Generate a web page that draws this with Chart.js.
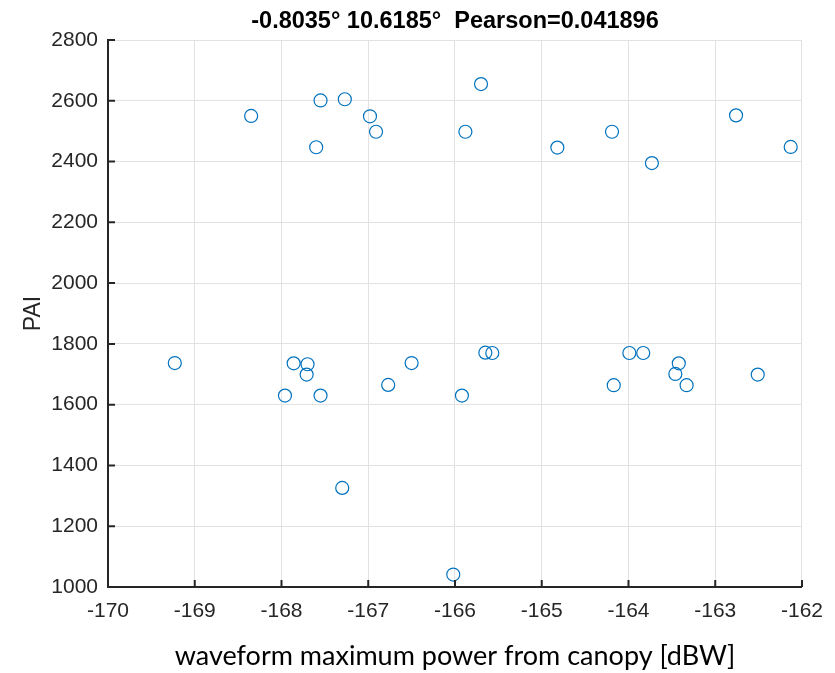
<!DOCTYPE html>
<html>
<head>
<meta charset="utf-8">
<script src="https://cdn.jsdelivr.net/npm/chart.js@4.4.0/dist/chart.umd.min.js"></script>
<style>
  body { margin: 0; background: #fff; }
  #wrap { width: 835px; height: 673px; }
</style>
</head>
<body>
<div id="wrap"><canvas id="scatter"></canvas></div>
<script>
// values
const powerValues = [
    -168.35, -167.55, -167.27, -166.98, -166.91, -167.60, -165.88, -165.70,
    -164.82, -164.19, -163.73, -162.76, -162.13,
    -169.23, -167.86, -167.70, -167.71, -167.96, -167.55, -166.77, -166.50,
    -167.30, -166.02, -165.92, -165.65, -165.57, -164.17, -163.99, -163.83,
    -163.42, -163.46, -163.33, -162.51
];
const paiValues = [
    2550, 2601, 2605, 2549, 2498, 2447, 2498, 2655,
    2446, 2498, 2395, 2552, 2448,
    1737, 1736, 1733, 1699, 1630, 1630, 1665, 1737,
    1326, 1041, 1630, 1771, 1770, 1664, 1770, 1770,
    1736, 1701, 1664, 1699
];
const xTicks = [-170, -169, -168, -167, -166, -165, -164, -163, -162];
const yTicks = [1000, 1200, 1400, 1600, 1800, 2000, 2200, 2400, 2600, 2800];

const titleText = '-0.8035\u00B0 10.6185\u00B0  Pearson=0.041896';
const xTitle = 'waveform maximum power from canopy [dBW]';
const yTitle = 'PAI';

const axisColor = '#262626';
const gridColor = '#e2e2e2';

const points = powerValues.map((x, i) => ({ x: x, y: paiValues[i] }));

// MATLAB style: ticks point into the axes, title over the plot area
const matlabBits = {
    id: 'matlabBits',
    afterDatasetsDraw(chart) {
        const ctx = chart.ctx;
        const area = chart.chartArea;
        const xs = chart.scales.x;
        const ys = chart.scales.y;
        ctx.save();
        ctx.strokeStyle = axisColor;
        ctx.lineWidth = 2;
        ctx.beginPath();
        xTicks.forEach(v => {
            const px = xs.getPixelForValue(v);
            ctx.moveTo(px, area.bottom);
            ctx.lineTo(px, area.bottom - 7);
        });
        yTicks.forEach(v => {
            const py = ys.getPixelForValue(v);
            ctx.moveTo(area.left, py);
            ctx.lineTo(area.left + 7, py);
        });
        ctx.stroke();

        ctx.fillStyle = '#000';
        ctx.font = 'bold 23.5px "Liberation Sans", Arial, sans-serif';
        ctx.textAlign = 'center';
        ctx.textBaseline = 'middle';
        ctx.fillText(titleText, (area.left + area.right) / 2, 22);
        ctx.restore();
    }
};

new Chart(document.getElementById('scatter'), {
    type: 'scatter',
    data: {
        datasets: [{
            data: points,
            pointStyle: 'circle',
            pointRadius: 6.5,
            pointHoverRadius: 6.5,
            borderColor: '#0072BD',
            backgroundColor: 'rgba(0,0,0,0)',
            borderWidth: 1.2
        }]
    },
    options: {
        responsive: true,
        maintainAspectRatio: false,
        animation: false,
        layout: { padding: { top: 40, right: 32, left: 0, bottom: 0 } },
        plugins: {
            legend: { display: false },
            tooltip: { enabled: false }
        },
        scales: {
            x: {
                type: 'linear',
                min: -170,
                max: -162,
                afterBuildTicks: scale => { scale.ticks = xTicks.map(v => ({ value: v })); },
                afterFit: scale => { scale.height = 86; },
                grid: { color: gridColor, lineWidth: 1, drawTicks: false },
                border: { display: true, color: axisColor, width: 2 },
                ticks: {
                    color: axisColor,
                    padding: 12,
                    font: { family: '"Liberation Sans", Arial, sans-serif', size: 21 },
                    callback: v => String(v)
                },
                title: {
                    display: true,
                    text: xTitle,
                    color: '#000',
                    font: { family: 'Lato, "Open Sans", sans-serif', size: 27 },
                    padding: { top: 0, bottom: 1 }
                }
            },
            y: {
                type: 'linear',
                min: 1000,
                max: 2800,
                afterBuildTicks: scale => { scale.ticks = yTicks.map(v => ({ value: v })); },
                afterFit: scale => { scale.width = 108; },
                grid: { color: gridColor, lineWidth: 1, drawTicks: false },
                border: { display: true, color: axisColor, width: 2 },
                ticks: {
                    color: axisColor,
                    padding: 10,
                    font: { family: '"Liberation Sans", Arial, sans-serif', size: 21 },
                    callback: v => String(v)
                },
                title: {
                    display: true,
                    text: yTitle,
                    color: axisColor,
                    font: { family: '"Liberation Sans", Arial, sans-serif', size: 23 },
                    padding: { top: 20, bottom: 0 }
                }
            }
        }
    },
    plugins: [matlabBits]
});
</script>
</body>
</html>
